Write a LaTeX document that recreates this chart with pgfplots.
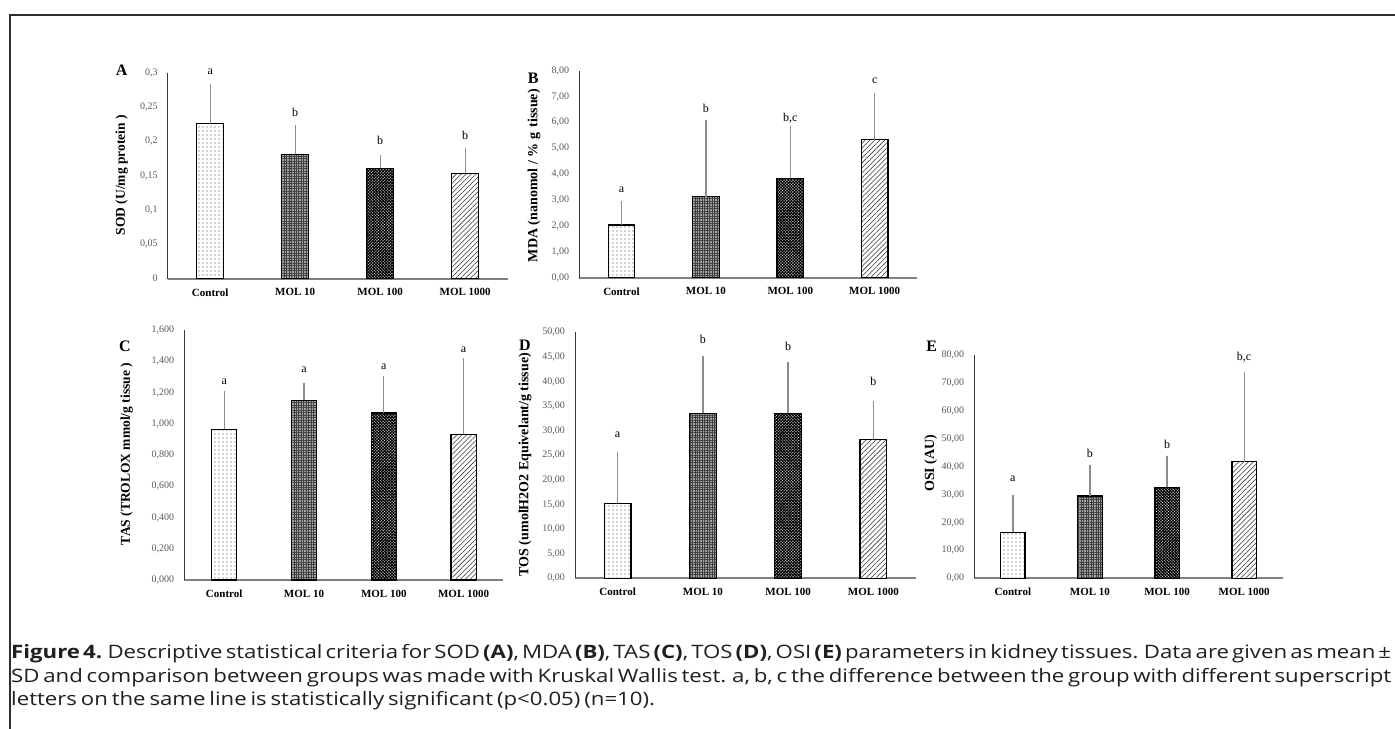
\documentclass[border=0pt]{standalone}
\usepackage{fontspec}
\setmainfont{Liberation Serif}
\newfontfamily\capfont[FakeStretch=1.2]{Open Sans}
\usepackage{pgfplots}
\pgfplotsset{compat=1.18}
\usetikzlibrary{patterns.meta}

\newcommand\tickfont{\fontsize{10bp}{12bp}\selectfont}
\newcommand\catfont{\fontsize{11bp}{13bp}\selectfont\bfseries}
\newcommand\letfont{\fontsize{12bp}{14bp}\selectfont}
\newcommand\panfont{\fontsize{16bp}{18bp}\selectfont\bfseries}
\newcommand\labfont[1]{\fontsize{#1}{#1}\selectfont\bfseries}

\pgfplotsset{
  panel/.style={
    scale only axis, anchor=south west,
    xmin=-0.5, xmax=3.5, ymin=0, enlargelimits=false, clip=false,
    axis x line*=bottom, axis y line*=left, axis line style={-},
    x axis line style={draw=black!50, line width=1.7bp},
    y axis line style={draw=black!78, line width=0.9bp},
    major tick length=0pt,
    xtick={0,1,2,3},
    xticklabels={Control,MOL 10,MOL 100,MOL 1000},
    xticklabel style={font=\catfont, inner sep=0pt, yshift=-9.5bp},
    yticklabel style={font=\tickfont, text=black!65, inner sep=0pt, xshift=-10bp},
    bar width=0.315, bar shift=0pt,
  },
  errs/.style={
    error bars/y dir=plus, error bars/y explicit,
    error bars/error bar style={draw=black!45, line width=1.3bp},
    error bars/error mark options={draw=black!45, line width=1.3bp, mark size=2.6bp},
  },
  ctrl/.style={ybar, draw=black, line width=1.2bp, fill=white,
    postaction={pattern={Dots[distance=4pt,radius=0.55pt]}, pattern color=black!75}, errs},
  m10/.style={ybar, draw=black, line width=1.2bp, fill=black!35,
    postaction={pattern={Hatch[angle=0,distance=2.5pt,line width=0.8pt]}, pattern color=black!75}, errs},
  m100/.style={ybar, draw=black, line width=1.2bp, fill=white,
    postaction={pattern={Hatch[angle=45,distance=2.1pt,line width=1.1pt]}, pattern color=black}, errs},
  m1000/.style={ybar, draw=black, line width=1.2bp, fill=white,
    postaction={pattern={Lines[angle=45,distance=3.5pt,line width=0.55pt]}, pattern color=black!80}, errs},
  lett/.style={draw=none, mark=none, nodes near coords, point meta=explicit symbolic,
    every node near coord/.append style={anchor=center, inner sep=0pt, font=\letfont, text=black}},
}

\begin{document}
\begin{tikzpicture}
\useasboundingbox (0,0) rectangle (1395bp,729bp);
\clip (0,0) rectangle (1395bp,729bp);
\fill[white] (0,0) rectangle (1395bp,729bp);

% frame round the figure
\draw[draw=black!82, line width=2.2bp] (10bp,-5bp) -- (10bp,714bp) -- (1405bp,714bp);

% A: SOD
\begin{axis}[panel, at={(167.7bp,450.3bp)}, width=340bp, height=206bp,
  ymax=0.3, ytick={0,0.05,0.1,0.15,0.2,0.25,0.3},
  yticklabels={0,{0,05},{0,1},{0,15},{0,2},{0,25},{0,3}},
  ylabel={SOD (U/mg protein )},
  ylabel style={font=\labfont{13.5bp}, at={(axis description cs:-0.1353,0.503)}, anchor=center}]
\addplot[ctrl] coordinates {(0,0.226) +- (0,0.0536)};
\addplot[m10] coordinates {(1,0.181) +- (0,0.039)};
\addplot[m100] coordinates {(2,0.161) +- (0,0.016)};
\addplot[m1000] coordinates {(3,0.1535) +- (0,0.0335)};
\addplot[lett] coordinates {(0,0.3015)[a] (1,0.2418)[b] (2,0.2020)[b] (3,0.2093)[b]};
\end{axis}

% B: MDA
\begin{axis}[panel, at={(579.3bp,451.3bp)}, width=337.6bp, height=207bp,
  ymax=8, ytick={0,1,2,3,4,5,6,7,8},
  yticklabels={{0,00},{1,00},{2,00},{3,00},{4,00},{5,00},{6,00},{7,00},{8,00}},
  ylabel={MDA (nanomol / \% g\hspace{0.15em} tissue)},
  ylabel style={font=\labfont{14bp}, at={(axis description cs:-0.1342,0.493)}, anchor=center}]
\addplot[ctrl] coordinates {(0,2.04) +- (0,0.81)};
\addplot[m10] coordinates {(1,3.13) +- (0,2.86)};
\addplot[m100] coordinates {(2,3.84) +- (0,1.93)};
\addplot[m1000] coordinates {(3,5.33) +- (0,1.69)};
\addplot[lett] coordinates {(0,3.416)[a] (1,6.547)[b] (2,6.160)[b,c] (3,7.602)[c]};
\end{axis}

% C: TAS
\begin{axis}[panel, at={(184.3bp,149bp)}, width=319.2bp, height=250bp,
  ymax=1.6, ytick={0,0.2,0.4,0.6,0.8,1.0,1.2,1.4,1.6},
  yticklabels={{0,000},{0,200},{0,400},{0,600},{0,800},{1,000},{1,200},{1,400},{1,600}},
  ylabel={TAS (TROLOX mmol/g tissue )},
  ylabel style={font=\labfont{13.5bp}, at={(axis description cs:-0.1805,0.504)}, anchor=center}]
\addplot[ctrl] coordinates {(0,0.9645) +- (0,0.2255)};
\addplot[m10] coordinates {(1,1.150) +- (0,0.096)};
\addplot[m100] coordinates {(2,1.069) +- (0,0.222)};
\addplot[m1000] coordinates {(3,0.932) +- (0,0.474)};
\addplot[lett] coordinates {(0,1.269)[a] (1,1.344)[a] (2,1.365)[a] (3,1.472)[a]};
\end{axis}

% D: TOS
\begin{axis}[panel, at={(575bp,150.7bp)}, width=341bp, height=246bp,
  ymax=50, ytick={0,5,10,15,20,25,30,35,40,45,50},
  yticklabels={{0,00},{5,00},{10,00},{15,00},{20,00},{25,00},{30,00},{35,00},{40,00},{45,00},{50,00}},
  ylabel={TOS (umolH2O2 Equivelant/g tissue)},
  ylabel style={font=\labfont{14bp}, at={(axis description cs:-0.1466,0.462)}, anchor=center}]
\addplot[ctrl] coordinates {(0,15.24) +- (0,9.96)};
\addplot[m10] coordinates {(1,33.54) +- (0,11.16)};
\addplot[m100] coordinates {(2,33.54) +- (0,9.82)};
\addplot[m1000] coordinates {(3,28.25) +- (0,7.18)};
\addplot[lett] coordinates {(0,29.27)[a] (1,48.64)[b] (2,47.21)[b] (3,39.96)[b]};
\end{axis}

% E: OSI
\begin{axis}[panel, at={(974.3bp,150.7bp)}, width=308.4bp, height=223.3bp,
  ymax=80, ytick={0,10,20,30,40,50,60,70,80},
  yticklabels={{0,00},{10,00},{20,00},{30,00},{40,00},{50,00},{60,00},{70,00},{80,00}},
  ylabel={OSI (AU)},
  ylabel style={font=\labfont{14bp}, at={(axis description cs:-0.1414,0.515)}, anchor=center}]
\addplot[ctrl] coordinates {(0,16.48) +- (0,12.42)};
\addplot[m10] coordinates {(1,29.5) +- (0,10.0)};
\addplot[m100] coordinates {(2,32.6) +- (0,10.4)};
\addplot[m1000] coordinates {(3,41.8) +- (0,31.3)};
\addplot[lett] coordinates {(0,35.83)[a] (1,44.79)[b] (2,48.01)[b] (3,79.04)[b,c]};
\end{axis}

% panel letters
\node[font=\panfont] at (121.7bp,658.3bp) {A};
\node[font=\panfont] at (533.3bp,650.7bp) {B};
\node[font=\panfont] at (125bp,382.3bp) {C};
\node[font=\panfont] at (525bp,384bp) {D};
\node[font=\panfont] at (931.7bp,382.3bp) {E};

% caption, justified; kept just inside the right edge
\begin{scope}[every node/.style={anchor=base west, inner sep=0pt, font=\capfont\fontsize{18.5bp}{21bp}\selectfont, text=black!88}]
\node at (11bp,70bp) {\spaceskip=0.2em plus 0.3em minus 0.05em\makebox[1380bp][s]{\textbf{Figure 4.} Descriptive statistical criteria for SOD \textbf{(A)}, MDA \textbf{(B)}, TAS \textbf{(C)}, TOS \textbf{(D)}, OSI \textbf{(E)} parameters in kidney tissues. Data are given as mean ±}};
\node at (11bp,46.7bp) {\spaceskip=0.22em plus 0.3em minus 0.05em\makebox[1380bp][s]{SD and comparison between groups was made with Kruskal Wallis test. a, b, c the difference between the group with different superscript}};
\node at (11bp,23.3bp) {\makebox[622bp][s]{letters on the same line is statistically significant (p<0.05) (n=10).}};
\end{scope}
\end{tikzpicture}
\end{document}
